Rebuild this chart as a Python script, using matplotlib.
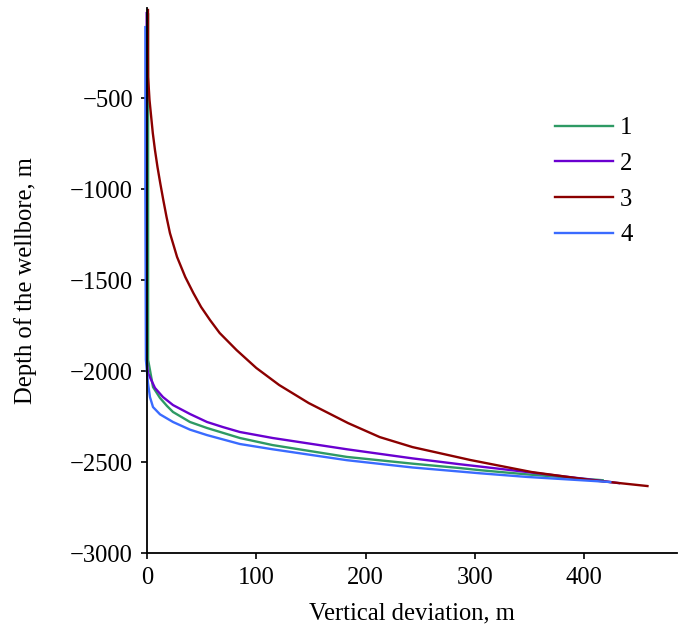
import matplotlib.pyplot as plt
import numpy as np

plt.rcParams['font.family'] = ['Liberation Serif', 'DejaVu Serif']
plt.rcParams['axes.unicode_minus'] = True

# curve 1 (green)
x1 = [1, 1, 1, 2.7, 5.5, 11.9, 18.3, 23.8, 39.3, 54.9, 85, 115, 183, 243, 286, 305, 348, 408, 417]
y1 = [-40, -1000, -1939, -1994, -2088, -2148, -2192, -2225, -2280, -2313, -2368, -2407,
      -2472, -2509, -2533, -2545, -2568, -2596, -2600]
# curve 2 (purple)
x2 = [-0.3, -0.3, -0.3, 0.9, 7.3, 14.6, 23.8, 39.3, 54.9, 69.5, 85, 115, 183, 243, 286, 305, 348, 408, 432]
y2 = [-33, -1000, -1939, -2011, -2093, -2143, -2187, -2236, -2280, -2308, -2335, -2368,
      -2430, -2480, -2512, -2525, -2555, -2598, -2616]
# curve 3 (dark red)
x3 = [0.9, 0.9, 1.0, 2.3, 5.3, 7.3, 9.6, 12.1, 14.9, 17.9, 21, 27.5, 35, 42.4, 49.5, 57.7, 66.5,
      82, 100, 121, 148, 184, 213, 243, 296, 352, 406, 458]
y3 = [-16, -250, -384, -511, -692, -786, -879, -967, -1060, -1154, -1242, -1373, -1483, -1571,
      -1648, -1720, -1791, -1885, -1983, -2077, -2176, -2286, -2363, -2418, -2489, -2555, -2599, -2632]
# curve 4 (blue)
x4 = [-1.5, -1.5, -1, 0.9, 2.7, 5.5, 11.9, 23.8, 39.3, 54.9, 85, 115, 183, 243, 305, 348, 408, 424]
y4 = [-110, -1000, -1939, -2066, -2143, -2198, -2238, -2280, -2322, -2352, -2401, -2430,
      -2490, -2530, -2562, -2582, -2604, -2610]

labels = ['1', '2', '3', '4']
colors = ['#2e9a64', '#6a00d0', '#8b0000', '#3a6bff']

fig = plt.figure(figsize=(6.79, 6.31), dpi=100)
ax = fig.add_axes([0.2165, 0.1236, 0.7805, 0.8637])

for xs, ys, lab, c in zip([x1, x2, x3, x4], [y1, y2, y3, y4], labels, colors):
    ax.plot(xs, ys, color=c, lw=1.7, label=lab, clip_on=False, solid_joinstyle='round')

ax.set_xlim(0, 485)
ax.set_ylim(-3000, -5)
ax.set_xticks([0, 100, 200, 300, 400])
ax.set_yticks([-3000, -2500, -2000, -1500, -1000, -500])
ax.tick_params(labelsize=17.7, length=4, width=1.2, pad=6)
ax.spines['top'].set_visible(False)
ax.spines['right'].set_visible(False)
ax.spines['left'].set_linewidth(1.3)
ax.spines['bottom'].set_linewidth(1.3)

ax.set_xlabel('Vertical deviation, m', fontsize=17.7, labelpad=10)
ax.set_ylabel('Depth of the wellbore, m', fontsize=17.7, labelpad=24)

ax.legend(loc='upper left', bbox_to_anchor=(0.77, 0.80), frameon=False, fontsize=17.7,
          handlelength=2.35, labelspacing=0.55, handletextpad=0.3, borderpad=0, borderaxespad=0)

fig.savefig('out.png', dpi=100)
